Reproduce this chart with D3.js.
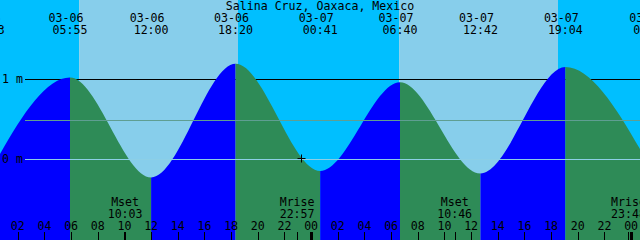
<!DOCTYPE html>
<html>
<head>
<meta charset="utf-8">
<script src="https://cdn.jsdelivr.net/npm/d3@7"></script>
<style>
  body { margin: 0; background: #fff; }
  svg { display: block; }
  text { font-family: "DejaVu Sans Mono", monospace; font-size: 11.6px; fill: #000; }
</style>
</head>
<body>
<script>
// chart values
const title = "Salina Cruz, Oaxaca, Mexico";

const tideTimes = ["2025-03-05 23:43", "2025-03-06 05:55", "2025-03-06 12:00", "2025-03-06 18:20",
                   "2025-03-07 00:41", "2025-03-07 06:40", "2025-03-07 12:42", "2025-03-07 19:04",
                   "2025-03-08 01:28"];
const tideHeights = [-0.22, 1.02, -0.23, 1.19, -0.15, 0.96, -0.18, 1.15, -0.11];

const sunriseTimes = ["2025-03-06 06:36", "2025-03-07 06:36"];
const sunsetTimes = ["2025-03-06 18:31", "2025-03-07 18:31"];

const moonNames = ["Mset", "Mrise", "Mset", "Mrise"];
const moonTimes = ["2025-03-06 10:03", "2025-03-06 22:57", "2025-03-07 10:46", "2025-03-07 23:48"];

const levelValues = [1, 0];
const levelLabels = ["1 m", "0 m"];
const midLevel = 0.49;

const nowTime = "2025-03-06 23:13";
const nowHeight = 0.01;

const startTime = "2025-03-06 00:40";
const spanHours = 48;

const width = 640, height = 240;
const parse = d3.utcParse("%Y-%m-%d %H:%M");
const fmtDate = d3.utcFormat("%m-%d");
const fmtTime = d3.utcFormat("%H:%M");
const fmtHour = d3.utcFormat("%H");

const t0 = parse(startTime);
const t1 = d3.utcHour.offset(t0, spanHours);

const x = d3.scaleUtc().domain([t0, t1]).range([0, width]);
const y = d3.scaleLinear().domain([0, 1]).range([159, 79]);

const tides = tideTimes.map((t, i) => ({t: parse(t), h: tideHeights[i]}));

const svg = d3.select("body").append("svg")
    .attr("width", width).attr("height", height);

// sky: night / day bands
let bounds = [t0];
sunriseTimes.forEach((s, i) => { bounds.push(parse(s)); bounds.push(parse(sunsetTimes[i])); });
bounds.push(t1);
let sky = [];
for (let i = 0; i < bounds.length - 1; i++) {
    sky.push({a: bounds[i], b: bounds[i + 1], day: i % 2 === 1});
}
svg.append("g").selectAll("rect")
    .data(sky)
    .enter().append("rect")
    .attr("x", d => x(d.a))
    .attr("y", 0)
    .attr("width", d => x(d.b) - x(d.a))
    .attr("height", height)
    .attr("fill", d => d.day ? "#87ceeb" : "#00bfff");

// 1 m line sits behind the water
svg.append("line")
    .attr("x1", 25).attr("x2", width)
    .attr("y1", y(levelValues[0]) + 0.5).attr("y2", y(levelValues[0]) + 0.5)
    .attr("stroke", "#000");

// water, split into rising (blue) and falling (green) pieces
const area = d3.area()
    .x(d => x(d.t))
    .y0(height)
    .y1(d => y(d.h))
    .curve(d3.curveMonotoneX);

svg.append("defs").append("clipPath")
    .attr("id", "water")
    .append("path")
    .attr("d", area(tides));

let pieces = [];
for (let i = 0; i < tides.length - 1; i++) {
    pieces.push({a: tides[i].t, b: tides[i + 1].t, rising: tides[i + 1].h > tides[i].h});
}
svg.append("g").attr("clip-path", "url(#water)")
    .selectAll("rect")
    .data(pieces)
    .enter().append("rect")
    .attr("x", d => x(d.a))
    .attr("y", 0)
    .attr("width", d => x(d.b) - x(d.a))
    .attr("height", height)
    .attr("fill", d => d.rising ? "#0000ff" : "#2e8b57");

// 0 m and mid lines drawn over
svg.append("line")
    .attr("x1", 25).attr("x2", width)
    .attr("y1", y(levelValues[1]) + 0.5).attr("y2", y(levelValues[1]) + 0.5)
    .attr("stroke", "#8ccfe6");
svg.append("line")
    .attr("x1", 25).attr("x2", width)
    .attr("y1", Math.round(y(midLevel)) + 0.5).attr("y2", Math.round(y(midLevel)) + 0.5)
    .attr("stroke", "#5f9e92");

// level labels
svg.selectAll("text.lvl")
    .data(levelValues)
    .enter().append("text")
    .attr("class", "lvl")
    .attr("x", 2)
    .attr("y", d => y(d) + 4)
    .text((d, i) => levelLabels[i]);

// title
svg.append("text")
    .attr("x", width / 2).attr("y", 10)
    .attr("text-anchor", "middle")
    .text(title);

// high / low labels along the top
const topLabels = svg.append("g").selectAll("g")
    .data(tides)
    .enter().append("g");
topLabels.append("text")
    .attr("x", d => x(d.t) - 4).attr("y", 22)
    .attr("text-anchor", "middle")
    .text(d => fmtDate(d.t));
topLabels.append("text")
    .attr("x", d => x(d.t)).attr("y", 34)
    .attr("text-anchor", "middle")
    .text(d => fmtTime(d.t));

// hour ticks at the bottom
const hours = d3.utcHour.every(2).range(t0, t1);
svg.append("g").selectAll("rect")
    .data(hours)
    .enter().append("rect")
    .attr("x", d => Math.round(x(d)) - (d.getUTCHours() === 0 ? 1 : 0))
    .attr("y", 232)
    .attr("width", d => d.getUTCHours() === 0 ? 3 : 1)
    .attr("height", 8)
    .attr("fill", "#000");
svg.append("g").selectAll("text")
    .data(hours)
    .enter().append("text")
    .attr("x", d => x(d))
    .attr("y", 230)
    .attr("text-anchor", "middle")
    .text(d => fmtHour(d));

// moon events
const moon = moonTimes.map((t, i) => ({t: parse(t), name: moonNames[i]}));
svg.append("g").selectAll("rect")
    .data(moon)
    .enter().append("rect")
    .attr("x", d => Math.round(x(d.t)))
    .attr("y", 232)
    .attr("width", 1)
    .attr("height", 8)
    .attr("fill", "#000");
const moonLabels = svg.append("g").selectAll("g")
    .data(moon)
    .enter().append("g");
moonLabels.append("text")
    .attr("x", d => x(d.t)).attr("y", 206)
    .attr("text-anchor", "middle")
    .text(d => d.name);
moonLabels.append("text")
    .attr("x", d => x(d.t)).attr("y", 218)
    .attr("text-anchor", "middle")
    .text(d => fmtTime(d.t));

// "now" marker
const nx = Math.round(x(parse(nowTime))) + 0.5;
const ny = Math.round(y(nowHeight)) + 0.5;
svg.append("path")
    .attr("d", `M${nx - 4},${ny}H${nx + 4}M${nx},${ny - 4}V${ny + 4}`)
    .attr("stroke", "#000")
    .attr("fill", "none");
</script>
</body>
</html>
